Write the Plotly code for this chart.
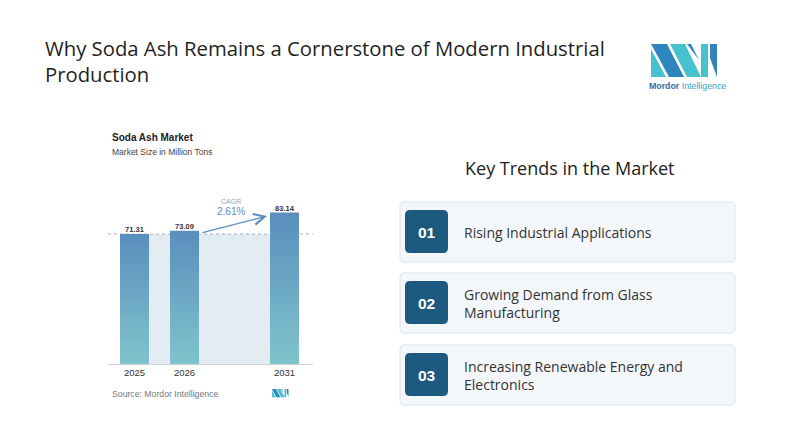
import plotly.graph_objects as go

# page body adds an 8px margin, so the figure is drawn 8px smaller and shifted
PAGE_W, PAGE_H, OFF = 800, 446, 8
W, H = PAGE_W - OFF, PAGE_H - OFF

# data
years = ["2025", "2026", "2031"]
positions = [0, 1, 3]          # slot of each bar on the x axis (gap for 2027-2030)
market_size = [71.31, 73.09, 83.14]
cagr_label = "2.61%"
trend_numbers = ["01", "02", "03"]
trend_texts = [
    "Rising Industrial Applications",
    "Growing Demand from Glass<br>Manufacturing",
    "Increasing Renewable Energy and<br>Electronics",
]

FONT = "Liberation Sans"
FONT2 = "Open Sans"
BAR_W = 0.58


def px(x):
    return (x - OFF) / W


def py(y):
    return 1 - (y - OFF) / H


def rounded_box(x0, y0, x1, y1, r):
    # path in paper coords from pixel corners
    pts = [
        f"M {px(x0 + r)} {py(y0)}",
        f"L {px(x1 - r)} {py(y0)}",
        f"Q {px(x1)} {py(y0)} {px(x1)} {py(y0 + r)}",
        f"L {px(x1)} {py(y1 - r)}",
        f"Q {px(x1)} {py(y1)} {px(x1 - r)} {py(y1)}",
        f"L {px(x0 + r)} {py(y1)}",
        f"Q {px(x0)} {py(y1)} {px(x0)} {py(y1 - r)}",
        f"L {px(x0)} {py(y0 + r)}",
        f"Q {px(x0)} {py(y0)} {px(x0 + r)} {py(y0)}",
        "Z",
    ]
    return " ".join(pts)


def poly(points, ox, oy, s):
    segs = []
    for i, (a, b) in enumerate(points):
        segs.append(("M" if i == 0 else "L") + f" {px(ox + a * s)} {py(oy + b * s)}")
    return " ".join(segs) + " Z"


def logo_shapes(ox, oy, s):
    teal, blue = "#46c2cf", "#2f86bd"
    parts = [
        ([(0, 5), (0, 33), (15, 33)], teal),
        ([(0, 0), (16, 0), (33, 33), (18, 33)], blue),
        ([(19, 0), (34, 0), (50, 33), (36, 33)], teal),
        ([(36, 0), (40, 0), (48, 16)], blue),
        ([(50, 0), (57, 0), (57, 33), (50, 33)], teal),
        ([(59, 0), (66, 0), (66, 33), (59, 14)], blue),
    ]
    return [dict(type="path", xref="paper", yref="paper", path=poly(p, ox, oy, s),
                 fillcolor=c, line=dict(width=0), layer="above") for p, c in parts]


fig = go.Figure()

# light band between first and last bar, up to the first value
x_left = positions[0] + BAR_W / 2
x_right = positions[-1] - BAR_W / 2
fig.add_trace(go.Scatter(
    x=[x_left, x_right, x_right, x_left], y=[0, 0, market_size[0], market_size[0]],
    fill="toself", fillcolor="#e3ebf3", mode="lines", line=dict(width=0),
    hoverinfo="skip", showlegend=False,
))

# dashed reference line at the first value
fig.add_trace(go.Scatter(
    x=[-0.53, 3.57], y=[market_size[0], market_size[0]], mode="lines",
    line=dict(color="#a7b2bb", width=1, dash="3px,3px"),
    hoverinfo="skip", showlegend=False,
))

# bars with a vertical gradient
for p, v in zip(positions, market_size):
    fig.add_trace(go.Scatter(
        x=[p - BAR_W / 2, p + BAR_W / 2, p + BAR_W / 2, p - BAR_W / 2],
        y=[0, 0, v, v],
        fill="toself", mode="lines", line=dict(width=0),
        fillgradient=dict(type="vertical", colorscale=[[0, "#7fc4cc"], [1, "#5a8ebd"]]),
        hoverinfo="skip", showlegend=False,
    ))

# value labels
fig.add_trace(go.Scatter(
    x=positions, y=market_size, mode="text",
    text=[f"<b>{v:.2f}</b>" for v in market_size], textposition="top center",
    textfont=dict(family=FONT, size=7.5, color="#333333"),
    hoverinfo="skip", showlegend=False,
))

annotations = []

# CAGR arrow and text
annotations.append(dict(
    x=2.65, y=81.2, ax=1.33, ay=71.9, xref="x", yref="y", axref="x", ayref="y",
    text="", showarrow=True, arrowhead=5, arrowsize=1.8, arrowwidth=1.2, arrowcolor="#5a8ebd",
))
annotations.append(dict(x=1.93, y=89.4, xref="x", yref="y", text="CAGR", showarrow=False,
                        font=dict(family=FONT, size=7, color="#8fa9c0")))
annotations.append(dict(x=1.93, y=83.4, xref="x", yref="y", text=cagr_label, showarrow=False,
                        font=dict(family=FONT, size=10, color="#5a8ebd")))


def text_at(x, y, text, size, color, anchor="left", bold=False, family=FONT):
    annotations.append(dict(
        x=px(x), y=py(y), xref="paper", yref="paper", text=f"<b>{text}</b>" if bold else text,
        showarrow=False, xanchor=anchor, yanchor="middle", align=anchor,
        font=dict(family=family, size=size, color=color),
    ))


# main title
text_at(43, 48, "Why Soda Ash Remains a Cornerstone of Modern Industrial", 20.3, "#1f1f1f", family=FONT2)
text_at(43, 74, "Production", 20.3, "#1f1f1f", family=FONT2)

# chart header and source
text_at(110, 138, "Soda Ash Market", 10, "#222222", bold=True)
text_at(110, 152, "Market Size in Million Tons", 8.5, "#444444")
text_at(110, 394, "Source: Mordor Intelligence", 8.7, "#777777")

# logo caption
annotations.append(dict(
    x=px(687), y=py(86), xref="paper", yref="paper", showarrow=False, xanchor="center", yanchor="middle",
    text="<span style='color:#2a6ea6'><b>Mordor</b></span><span style='color:#3d9fc8'> Intelligence</span>",
    font=dict(family=FONT, size=8.8),
))

# key trends panel
text_at(570, 168, "Key Trends in the Market", 18, "#222222", anchor="center", family=FONT2)

shapes = []
box_tops = [202, 273, 345]
for top, num, txt in zip(box_tops, trend_numbers, trend_texts):
    shapes.append(dict(type="path", xref="paper", yref="paper", path=rounded_box(400, top, 735, top + 60, 4),
                       fillcolor="#f4f7fa", line=dict(color="#dde3e9", width=1), layer="below"))
    shapes.append(dict(type="path", xref="paper", yref="paper", path=rounded_box(405, top + 8, 448, top + 51, 5),
                       fillcolor="#1b5a7e", line=dict(width=0), layer="below"))
    text_at(426.5, top + 30, num, 15.5, "#ffffff", anchor="center", bold=True)
    text_at(462, top + 30, txt, 14, "#333333", family=FONT2)

shapes += logo_shapes(651, 44, 1.0)
shapes += logo_shapes(272, 389, 0.25)

fig.update_layout(
    width=W, height=H,
    margin=dict(l=0, r=0, t=0, b=0),
    paper_bgcolor="white", plot_bgcolor="white",
    showlegend=False,
    xaxis=dict(
        domain=[px(108), px(313)], range=[-0.53, 3.57],
        tickvals=positions, ticktext=years, ticks="",
        tickfont=dict(family=FONT, size=9.5, color="#333333"),
        showgrid=False, zeroline=False, showline=True, linecolor="#cfcfcf", linewidth=1,
        fixedrange=True,
    ),
    yaxis=dict(
        domain=[py(364), py(181.7)], range=[0, 100],
        visible=False, showgrid=False, zeroline=False, fixedrange=True,
    ),
    shapes=shapes,
    annotations=annotations,
)

fig.write_html("out.html")
